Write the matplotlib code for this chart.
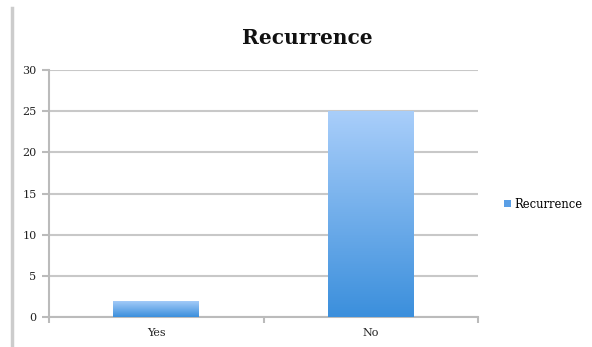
import matplotlib
matplotlib.use("Agg")
import matplotlib.pyplot as plt
import numpy as np
from matplotlib.colors import LinearSegmentedColormap
from matplotlib.patches import Patch

categories = ["Yes", "No"]
values = [2, 25]
series_name = "Recurrence"
yticks = [0, 5, 10, 15, 20, 25, 30]

plt.rcParams['font.family'] = ['DejaVu Serif']

fig = plt.figure(figsize=(5.92, 3.47), dpi=100)
ax = fig.add_axes([49/592, 1 - 317/347, 429/592, 247/347])

x = np.arange(len(categories))
bars = ax.bar(x, values, width=0.4, color='none', edgecolor='none', zorder=3)

cmap = LinearSegmentedColormap.from_list("grad", ["#3b8fdc", "#a9cefa"])
grad = np.linspace(0, 1, 256).reshape(-1, 1)
for b in bars:
    x0, y0 = b.get_x(), b.get_y()
    w, h = b.get_width(), b.get_height()
    im = ax.imshow(grad, cmap=cmap, origin='lower', aspect='auto',
                   extent=[x0, x0 + w, y0, y0 + h], zorder=3)
    im.set_clip_path(b)

ax.set_xlim(-0.5, len(categories) - 0.5)
ax.set_ylim(0, 30)
ax.set_yticks(yticks)
ax.set_xticks(x)
ax.set_xticklabels(categories)
ax.set_xticks([-0.5, 0.5, 1.5], minor=True)
ax.tick_params(axis='x', which='major', length=0, pad=8, labelsize=8, colors='#222222')
ax.tick_params(axis='x', which='minor', length=4, width=1.5, color='#bbbbbb')
ax.tick_params(axis='y', length=5, width=1.5, color='#bbbbbb', pad=4, labelsize=8, labelcolor='#222222')

ax.grid(axis='y', color='#c8c8c8', linewidth=1.5, zorder=0)
ax.set_axisbelow(True)
for s in ['top', 'right']:
    ax.spines[s].set_visible(False)
for s in ['left', 'bottom']:
    ax.spines[s].set_color('#bbbbbb')
    ax.spines[s].set_linewidth(1.5)

fig.text(307/592, 1 - 38/347, "Recurrence", ha='center', va='center',
         fontsize=14.5, fontweight='bold', color='#111111')

# outer left border line of chart frame
fig.add_artist(plt.Line2D([12/592, 12/592], [0, 1 - 8/347], color='#cccccc', linewidth=2.5))

handle = Patch(facecolor='#5a9fe6', edgecolor='none')
fig.legend([handle], [series_name], loc='center left',
           bbox_to_anchor=(494/592, 1 - 204/347), frameon=False,
           fontsize=8.3, handlelength=0.6, handleheight=0.6, handletextpad=0.25)

fig.savefig("out.png", dpi=100)
